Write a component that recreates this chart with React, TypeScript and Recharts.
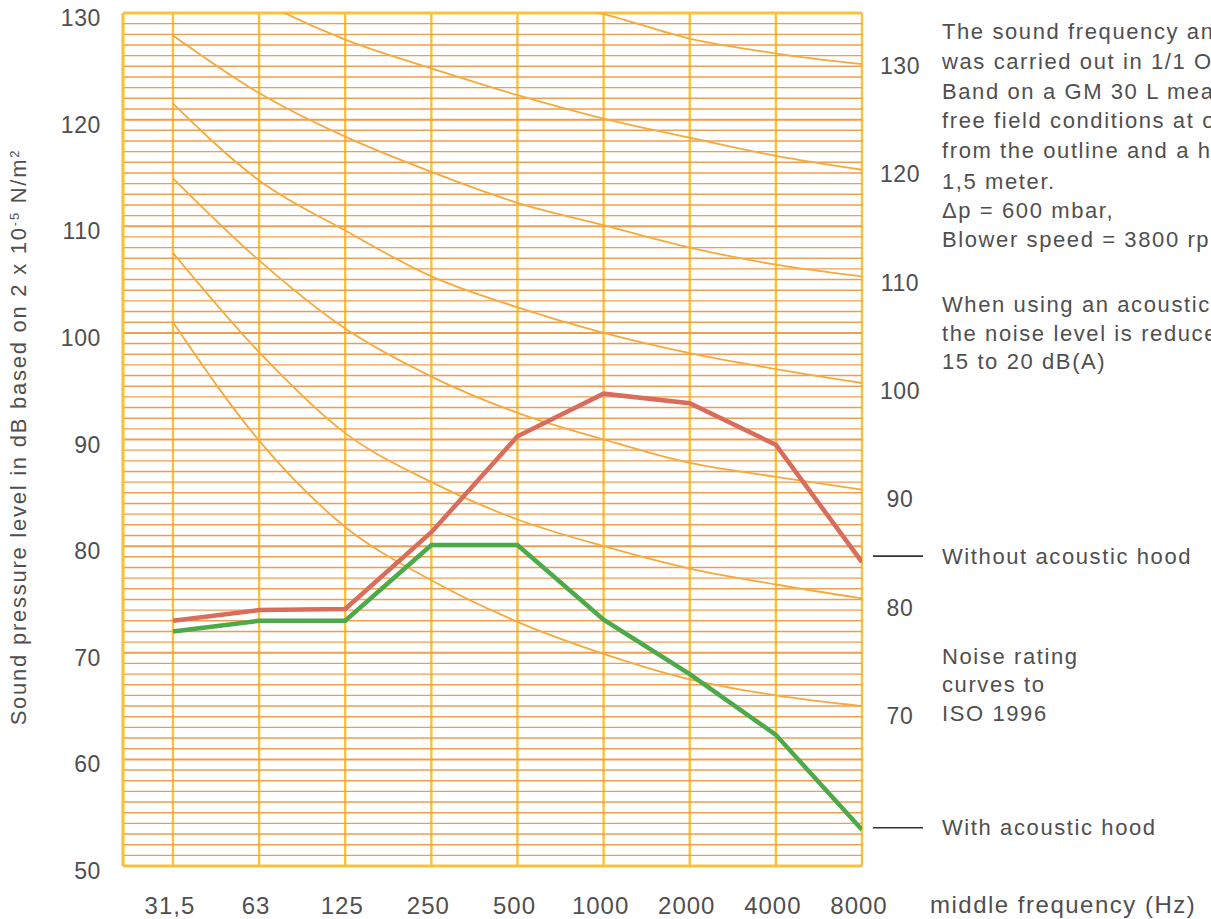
import React from "react";
import { LineChart, Line, XAxis, YAxis, CartesianGrid, ReferenceLine } from "recharts";

// ---- data ----
const FREQ_LABELS = ["31,5", "63", "125", "250", "500", "1000", "2000", "4000", "8000"];
const FREQ_INDEX = [0, 1, 2, 3, 4, 5, 6, 7, 8];
const LEFT_TICKS = [50, 60, 70, 80, 90, 100, 110, 120, 130];
const RIGHT_TICKS = [70, 80, 90, 100, 110, 120, 130];
const GRID_DB = Array.from({ length: 81 }, (_, i) => 50 + i);

const WITHOUT_HOOD = [73.0, 74.0, 74.1, 81.3, 90.3, 94.3, 93.4, 89.5, 78.5];
const WITH_HOOD = [72.0, 73.0, 73.0, 80.1, 80.1, 73.1, 68.0, 62.3, 53.4];

const NR70 = [101.0, 89.9, 81.8, 76.8, 72.9, 69.9, 67.5, 66.0, 65.0];
const NR80 = [107.5, 98.2, 90.6, 86.0, 82.5, 80.0, 77.9, 76.4, 75.1];
const NR90 = [114.5, 106.8, 100.4, 95.9, 92.5, 90.0, 87.8, 86.5, 85.3];
const NR100 = [121.5, 114.3, 109.6, 105.3, 102.4, 100.0, 98.1, 96.6, 95.3];
const NR110 = [127.9, 122.5, 118.4, 115.1, 112.2, 110.1, 108.0, 106.4, 105.3];
const NR120 = [136.0, 131.2, 127.5, 124.8, 122.3, 120.1, 118.3, 116.6, 115.3];
const NR130 = [142.5, 138.5, 135.5, 133.2, 131.5, 129.9, 127.6, 126.2, 125.2];

const NR_SERIES = [
  { key: "nr70", values: NR70 },
  { key: "nr80", values: NR80 },
  { key: "nr90", values: NR90 },
  { key: "nr100", values: NR100 },
  { key: "nr110", values: NR110 },
  { key: "nr120", values: NR120 },
  { key: "nr130", values: NR130 },
];

const data = FREQ_INDEX.map((i) => {
  const row: Record<string, number | string> = {
    x: i,
    label: FREQ_LABELS[i],
    without: WITHOUT_HOOD[i],
    withHood: WITH_HOOD[i],
  };
  NR_SERIES.forEach((s) => {
    row[s.key] = s.values[i];
  });
  return row;
});

// ---- layout / styles ----
const W = 1211;
const H = 919;
const PLOT_LEFT = 123;
const PLOT_RIGHT = 862;
const FONT = "'Liberation Sans', Arial, Helvetica, sans-serif";
const TEXT = "#4f4f4f";
const H_GRID = "#ef9d52";
const V_GRID = "#f9c23a";
const NR_COLOR = "#f4aa3c";
const RED = "#d86d5c";
const GREEN = "#4caa4a";

const LeftTick = (props: any) => {
  const { y, payload } = props;
  return (
    <text x={PLOT_LEFT - 22} y={y + 5} textAnchor="end" dominantBaseline="central" fontSize={23} fill={TEXT} fontFamily={FONT} letterSpacing={0.6}>
      {payload.value}
    </text>
  );
};

const RightTick = (props: any) => {
  const { y, payload } = props;
  return (
    <text x={PLOT_RIGHT + 38} y={y} textAnchor="middle" dominantBaseline="central" fontSize={23} fill={TEXT} fontFamily={FONT} letterSpacing={0.6}>
      {payload.value}
    </text>
  );
};

const BottomTick = (props: any) => {
  const { x, y, payload } = props;
  return (
    <text x={x - 3} y={y + 37} textAnchor="middle" dominantBaseline="central" fontSize={24} fill={TEXT} fontFamily={FONT} letterSpacing={1}>
      {FREQ_LABELS[payload.value]}
    </text>
  );
};

const endLabel = (text: string, dy: number) => (props: any) => {
  const { x, y, index } = props;
  if (index !== FREQ_LABELS.length - 1) return null;
  return (
    <g key={`end-${text}`}>
      <line x1={x + 11} x2={x + 61} y1={y + dy} y2={y + dy} stroke="#333" strokeWidth={1.6} />
      <text x={x + 80} y={y + dy} dominantBaseline="central" fontSize={22} fill={TEXT} fontFamily={FONT} letterSpacing={1.6}>
        {text}
      </text>
    </g>
  );
};

const textLine = (t: string, top: number, left = 942, size = 22, spacing = 1.6) => (
  <div
    key={t + top}
    style={{
      position: "absolute",
      left,
      top: top - 15,
      height: 30,
      lineHeight: "30px",
      fontSize: size,
      fontFamily: FONT,
      color: TEXT,
      letterSpacing: spacing,
      whiteSpace: "nowrap",
    }}
  >
    {t}
  </div>
);

const NOTE_LINES: [string, number][] = [
  ["The sound frequency analysis", 32],
  ["was carried out in 1/1 Octave", 62],
  ["Band on a GM 30 L measured in", 92],
  ["free field conditions at one meter", 121],
  ["from the outline and a height of", 151],
  ["1,5 meter.", 182],
  ["\u0394p = 600 mbar,", 211],
  ["Blower speed = 3800 rpm", 240],
  ["When using an acoustic hood", 305],
  ["the noise level is reduced by", 334],
  ["15 to 20 dB(A)", 362],
  ["Noise rating", 657],
  ["curves to", 685],
  ["ISO 1996", 714],
];

export default function App() {
  return (
    <div style={{ position: "absolute", left: 0, top: 0, width: W, height: H, overflow: "hidden", background: "#fff" }}>
      <LineChart width={W} height={H} data={data} margin={{ top: 13, right: W - PLOT_RIGHT - 60, bottom: 13, left: PLOT_LEFT - 80 }}>
        <XAxis
          dataKey="x"
          type="number"
          domain={[-0.58, 8]}
          allowDataOverflow
          ticks={FREQ_INDEX}
          tick={<BottomTick />}
          axisLine={false}
          tickLine={false}
          tickSize={0}
          height={40}
          interval={0}
        />
        <YAxis
          yAxisId="main"
          type="number"
          domain={[50, 130]}
          ticks={LEFT_TICKS}
          tick={<LeftTick />}
          axisLine={false}
          tickLine={false}
          tickSize={0}
          width={80}
          interval={0}
        />
        <YAxis yAxisId="nr" type="number" domain={[50, 130]} allowDataOverflow hide />
        <YAxis
          yAxisId="right"
          orientation="right"
          type="number"
          domain={[56.2, 134.85]}
          allowDataOverflow
          ticks={RIGHT_TICKS}
          tick={<RightTick />}
          axisLine={false}
          tickLine={false}
          tickSize={0}
          width={60}
          interval={0}
        />
        {GRID_DB.map((v) => (
          <ReferenceLine
            key={`g${v}`}
            yAxisId="main"
            y={v}
            stroke={H_GRID}
            strokeWidth={v % 10 === 0 ? 2 : 1.4}
          />
        ))}
        <CartesianGrid yAxisId="main" horizontal={false} stroke={V_GRID} strokeWidth={2.4} />
        <ReferenceLine yAxisId="main" y={130} stroke={V_GRID} strokeWidth={3} />
        <ReferenceLine yAxisId="main" y={50} stroke={V_GRID} strokeWidth={3} />
        <ReferenceLine yAxisId="main" x={-0.58} stroke={V_GRID} strokeWidth={3} />
        {NR_SERIES.map((s) => (
          <Line
            key={s.key}
            yAxisId="nr"
            dataKey={s.key}
            type="monotone"
            stroke={NR_COLOR}
            strokeWidth={1.8}
            dot={false}
            activeDot={false}
            isAnimationActive={false}
          />
        ))}
        <Line
          yAxisId="main"
          dataKey="without"
          type="linear"
          stroke={RED}
          strokeWidth={4.5}
          dot={false}
          activeDot={false}
          isAnimationActive={false}
          label={endLabel("Without acoustic hood", -6)}
        />
        <Line
          yAxisId="main"
          dataKey="withHood"
          type="linear"
          stroke={GREEN}
          strokeWidth={4.5}
          dot={false}
          activeDot={false}
          isAnimationActive={false}
          label={endLabel("With acoustic hood", -2)}
        />
      </LineChart>

      {NOTE_LINES.map(([t, y]) => textLine(t, y))}
      {textLine("middle frequency (Hz)", 905, 930, 24, 1.5)}

      <div
        style={{
          position: "absolute",
          left: 19,
          top: 437,
          transform: "translate(-50%, -50%) rotate(-90deg)",
          whiteSpace: "nowrap",
          fontSize: 22,
          fontFamily: FONT,
          color: TEXT,
          letterSpacing: 1.75,
          lineHeight: "26px",
        }}
      >
        Sound pressure level in dB based on 2 x 10
        <sup style={{ fontSize: 13, verticalAlign: "7px", lineHeight: 0 }}>-5</sup> N/m
        <sup style={{ fontSize: 13, verticalAlign: "7px", lineHeight: 0 }}>2</sup>
      </div>
    </div>
  );
}
